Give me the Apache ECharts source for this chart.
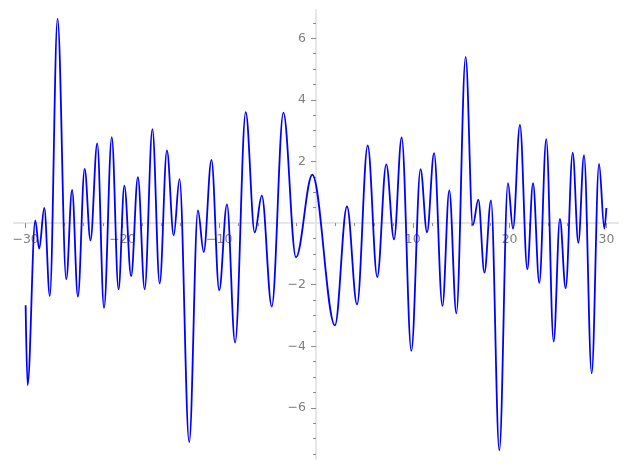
<!DOCTYPE html>
<html><head><meta charset="utf-8">
<script src="https://cdn.jsdelivr.net/npm/echarts@6/dist/echarts.min.js"></script>
<style>html,body{margin:0;padding:0;background:#fff}#c{width:627px;height:470px}</style>
</head><body><div id="c"></div>
<script>
const xValues = [-30, -29.8, -29.0, -28.6, -28.07, -27.5, -26.7, -25.8, -25.2, -24.6, -23.9, -23.3, -22.6, -21.9, -21.1, -20.4, -19.8, -19.1, -18.4, -17.7, -16.9, -16.15, -15.4, -14.7, -14.1, -13.1, -12.2, -11.6, -10.8, -10.0, -9.2, -8.36, -7.26, -6.33, -5.6, -4.57, -3.37, -2.07, -0.38, 1.96, 3.2, 4.24, 5.34, 6.33, 7.26, 8.06, 8.85, 9.85, 10.8, 11.47, 12.2, 13.06, 13.77, 14.5, 15.46, 16.2, 16.77, 17.4, 18.08, 18.94, 19.83, 20.35, 21.07, 21.83, 22.42, 23.07, 23.79, 24.55, 25.2, 25.79, 26.52, 27.1, 27.69, 28.48, 29.24, 29.79, 30];
const yValues = [-2.67, -5.26, 0.09, -0.83, 0.49, -2.37, 6.64, -1.83, 1.08, -2.39, 1.76, -0.56, 2.59, -2.75, 2.79, -2.15, 1.22, -1.72, 1.49, -2.15, 3.05, -1.96, 2.36, -0.40, 1.43, -7.11, 0.41, -0.94, 2.05, -2.18, 0.61, -3.88, 3.60, -0.30, 0.89, -2.71, 3.59, -1.11, 1.57, -3.32, 0.54, -2.64, 2.52, -1.75, 1.91, -0.53, 2.78, -4.15, 1.75, -0.30, 2.27, -2.69, 1.06, -2.93, 5.40, -0.07, 0.76, -1.61, 0.74, -7.38, 1.30, -0.18, 3.19, -1.50, 1.30, -1.94, 2.73, -3.85, 0.14, -2.12, 2.29, -0.64, 2.21, -4.88, 1.92, -0.18, 0.49];

const xTickLabels = [-30, -20, -10, 10, 20, 30];
const yTickLabels = [-6, -4, -2, 2, 4, 6];
const xMinorTicks = [-28, -26, -24, -22, -18, -16, -14, -12, -8, -6, -4, -2, 2, 4, 6, 8, 12, 14, 16, 18, 22, 24, 26, 28];
const yMinorTicks = [-7.5, -7, -6.5, -5.5, -5, -4.5, -3.5, -3, -2.5, -1.5, -1, -0.5, 0.5, 1, 1.5, 2.5, 3, 3.5, 4.5, 5, 5.5, 6.5];

const X_MIN = -31.2, X_MAX = 31.2, Y_MIN = -7.66, Y_MAX = 6.92;

// plot area layout (pixels)
const W = 627, H = 470;
const G_LEFT = 14, G_RIGHT = 9, G_TOP = 10, G_BOTTOM = 11;
const plotW = W - G_LEFT - G_RIGHT, plotH = H - G_TOP - G_BOTTOM;
// where the axes cross (data origin), used to place the axis-carrying grids
const zeroX = G_LEFT + plotW * (0 - X_MIN) / (X_MAX - X_MIN);
const zeroY = G_TOP + plotH * (Y_MAX - 0) / (Y_MAX - Y_MIN);

const fmt = v => (v < 0 ? '\u2212' : '') + Math.abs(v);
const labelStyle = { color: '#808080', fontFamily: 'DejaVu Sans', fontSize: 12.5 };
const axisLineStyle = { color: '#e6e6e6', width: 2 };
const tickStyle = { color: '#8c8c8c', width: 1 };
const hidden = { axisLine: { show: false, onZero: false }, axisTick: { show: false }, axisLabel: { show: false }, splitLine: { show: false } };

const chart = echarts.init(document.getElementById('c'), null, { renderer: 'canvas' });
chart.setOption({
  animation: false,
  backgroundColor: '#ffffff',
  grid: [
    // 0: data plot area
    { left: G_LEFT, right: G_RIGHT, top: G_TOP, bottom: G_BOTTOM, outerBoundsMode: 'none', containLabel: false },
    // 1: carries the horizontal axis on its bottom edge (at y = 0)
    { left: G_LEFT, width: plotW, top: G_TOP, height: zeroY - G_TOP, outerBoundsMode: 'none', containLabel: false },
    // 2: carries the vertical axis on its left edge (at x = 0)
    { left: zeroX, width: W - G_RIGHT - zeroX, top: G_TOP, bottom: G_BOTTOM, outerBoundsMode: 'none', containLabel: false }
  ],
  xAxis: [
    Object.assign({ type: 'value', gridIndex: 0, min: X_MIN, max: X_MAX }, hidden),
    {
      type: 'value', gridIndex: 1, min: X_MIN, max: X_MAX, position: 'bottom',
      axisLine: { show: true, onZero: false, lineStyle: axisLineStyle },
      axisTick: { show: true, customValues: xTickLabels, length: 5, inside: false, lineStyle: tickStyle },
      axisLabel: Object.assign({ customValues: xTickLabels, formatter: fmt, margin: 10.5 }, labelStyle),
      splitLine: { show: false }
    },
    {
      type: 'value', gridIndex: 1, min: X_MIN, max: X_MAX, position: 'bottom',
      axisLine: { show: false, onZero: false },
      axisTick: { show: true, customValues: xMinorTicks, length: 3, inside: false, lineStyle: tickStyle },
      axisLabel: { show: false },
      splitLine: { show: false }
    },
    Object.assign({ type: 'value', gridIndex: 2, min: 0, max: 1 }, hidden)
  ],
  yAxis: [
    Object.assign({ type: 'value', gridIndex: 0, min: Y_MIN, max: Y_MAX }, hidden),
    Object.assign({ type: 'value', gridIndex: 1, min: 0, max: 1 }, hidden),
    {
      type: 'value', gridIndex: 2, min: Y_MIN, max: Y_MAX, position: 'left',
      axisLine: { show: true, onZero: false, lineStyle: axisLineStyle },
      axisTick: { show: true, customValues: yTickLabels, length: 5, inside: false, lineStyle: tickStyle },
      axisLabel: Object.assign({ customValues: yTickLabels, formatter: fmt, margin: 10 }, labelStyle),
      splitLine: { show: false }
    },
    {
      type: 'value', gridIndex: 2, min: Y_MIN, max: Y_MAX, position: 'left',
      axisLine: { show: false, onZero: false },
      axisTick: { show: true, customValues: yMinorTicks, length: 3, inside: false, lineStyle: tickStyle },
      axisLabel: { show: false },
      splitLine: { show: false }
    }
  ],
  series: [{
    type: 'line',
    xAxisIndex: 0, yAxisIndex: 0,
    data: xValues.map((x, i) => [x, yValues[i]]),
    smooth: 0.36,
    smoothMonotone: 'x',
    showSymbol: false,
    symbol: 'none',
    lineStyle: { color: '#0000ff', width: 1.8 },
    z: 5
  }]
});
</script>
</body></html>
